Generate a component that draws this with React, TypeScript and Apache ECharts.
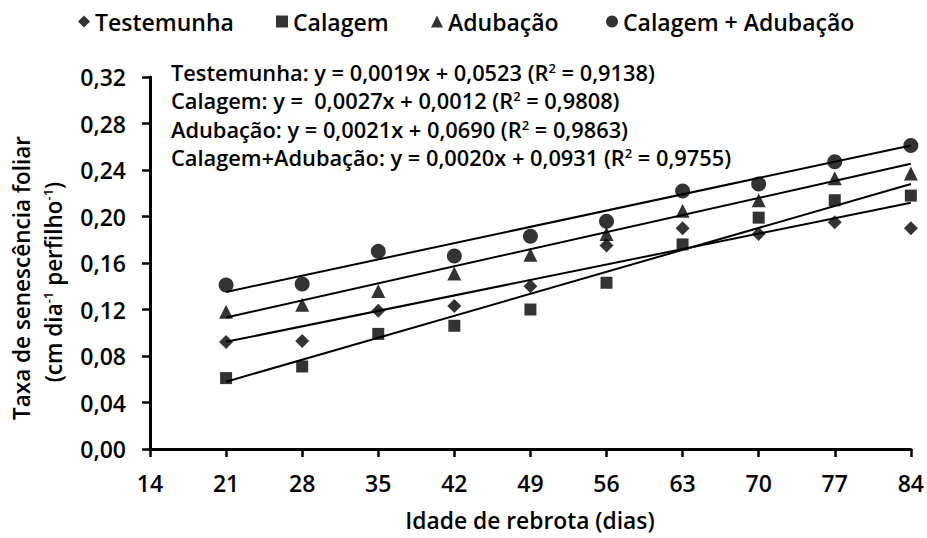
import React, { useEffect, useRef } from "react";
import * as echarts from "echarts";

const days = [21, 28, 35, 42, 49, 56, 63, 70, 77, 84];
const testemunha = [0.092, 0.093, 0.119, 0.123, 0.14, 0.175, 0.19, 0.185, 0.195, 0.19];
const calagem = [0.061, 0.071, 0.099, 0.106, 0.12, 0.143, 0.176, 0.199, 0.214, 0.218];
const adubacao = [0.118, 0.124, 0.136, 0.151, 0.167, 0.185, 0.205, 0.214, 0.233, 0.237];
const calagemAdubacao = [0.141, 0.142, 0.17, 0.166, 0.183, 0.196, 0.222, 0.228, 0.247, 0.261];

const seriesNames = ["Testemunha", "Calagem", "Adubação", "Calagem + Adubação"];
const symbols = ["diamond", "rect", "triangle", "circle"];
const symbolSizes = [14, 12, 14, 15];
const slopes = [0.0019, 0.0027, 0.0021, 0.002];
const intercepts = [0.0523, 0.0012, 0.069, 0.0931];
const equationTexts = [
  "Testemunha: y = 0,0019x + 0,0523 (R{s|2} = 0,9138)",
  "Calagem: y =  0,0027x + 0,0012 (R{s|2} = 0,9808)",
  "Adubação: y = 0,0021x + 0,0690 (R{s|2} = 0,9863)",
  "Calagem+Adubação: y = 0,0020x + 0,0931 (R{s|2} = 0,9755)",
];
const yTickMin = 0;
const yTickMax = 0.32;
const yTickStep = 0.04;
const xTickMin = 14;
const xTickMax = 84;
const xTickStep = 7;

const FONT = "'Open Sans', 'Noto Sans', sans-serif";
const W = 600;

export default function App() {
  const ref = useRef<HTMLDivElement>(null);
  useEffect(() => {
    if (!ref.current) return;
    const chart = echarts.init(ref.current, undefined, { renderer: "svg" });
    const allValues = [testemunha, calagem, adubacao, calagemAdubacao];
    const scatterSeries = seriesNames.map((name, i) => ({
      name,
      type: "scatter",
      symbol: symbols[i],
      symbolSize: symbolSizes[i],
      itemStyle: { color: "#000" },
      data: days.map((d, j) => [d, allValues[i][j]]),
      z: 3,
    }));
    const first = days[0];
    const last = days[days.length - 1];
    const trendSeries = seriesNames.map((name, i) => ({
      name: name + " (tendência)",
      type: "line",
      showSymbol: false,
      silent: true,
      lineStyle: { color: "#000", width: 2 },
      data: [
        [first, slopes[i] * first + intercepts[i]],
        [last, slopes[i] * last + intercepts[i]],
      ],
      z: 2,
    }));
    const eqY = [72, 100, 129, 157];
    const eqGraphics = equationTexts.map((t, i) => ({
      type: "text",
      x: 171,
      y: eqY[i],
      style: {
        text: t,
        font: `${W} 21.8px ${FONT}`,
        fill: "#000",
        textVerticalAlign: "middle",
        rich: {
          s: { fontSize: 13, fontWeight: W, fontFamily: FONT, verticalAlign: "top", padding: [0, 0, 9, 0] },
        },
      },
    }));
    const legendLefts = [78, 276, 431, 606];
    const legends = seriesNames.map((name, i) => ({
      data: [name],
      left: legendLefts[i],
      top: 10,
      padding: 0,
      itemWidth: 12,
      itemHeight: 12,
      textStyle: { fontSize: 23, fontWeight: W, color: "#000", fontFamily: FONT },
    }));
    chart.setOption({
      animation: false,
      backgroundColor: "#fff",
      textStyle: { fontFamily: FONT },
      legend: legends,
      grid: { left: 150, right: 15, top: 77, bottom: 89 },
      xAxis: {
        type: "value",
        min: xTickMin,
        max: xTickMax,
        interval: xTickStep,
        axisLine: { lineStyle: { color: "#000", width: 3 } },
        axisTick: { show: true, length: 8, lineStyle: { color: "#000", width: 2.5 } },
        axisLabel: { fontSize: 23, fontWeight: W, color: "#000", margin: 22, fontFamily: FONT },
        splitLine: { show: false },
      },
      yAxis: {
        type: "value",
        min: yTickMin,
        max: yTickMax,
        interval: yTickStep,
        axisLine: { show: true, lineStyle: { color: "#000", width: 3 } },
        axisTick: { show: true, length: 8, lineStyle: { color: "#000", width: 2.5 } },
        axisLabel: {
          fontSize: 23,
          fontWeight: W,
          color: "#000",
          margin: 24,
          fontFamily: FONT,
          formatter: (v: number) => v.toFixed(2).replace(".", ","),
        },
        splitLine: { show: false },
      },
      graphic: [
        ...eqGraphics,
        {
          type: "text",
          x: 530,
          y: 520,
          style: {
            text: "Idade de rebrota (dias)",
            font: `${W} 22.8px ${FONT}`,
            fill: "#000",
            textAlign: "center",
            textVerticalAlign: "middle",
          },
        },
        {
          type: "text",
          x: 21,
          y: 278,
          rotation: Math.PI / 2,
          style: {
            text: "Taxa de senescência foliar",
            font: `${W} 22.5px ${FONT}`,
            fill: "#000",
            textAlign: "center",
            textVerticalAlign: "middle",
          },
        },
        {
          type: "text",
          x: 53,
          y: 282,
          rotation: Math.PI / 2,
          style: {
            text: "(cm dia{s|-1} perfilho{s|-1})",
            font: `${W} 22.5px ${FONT}`,
            fill: "#000",
            textAlign: "center",
            textVerticalAlign: "middle",
            rich: {
              s: { fontSize: 13, fontWeight: W, fontFamily: FONT, verticalAlign: "top", padding: [0, 0, 9, 0] },
            },
          },
        },
      ],
      series: [...trendSeries, ...scatterSeries],
    });
    return () => chart.dispose();
  }, []);
  return <div ref={ref} style={{ position: "fixed", left: 0, top: 0, width: 927, height: 538 }} />;
}
